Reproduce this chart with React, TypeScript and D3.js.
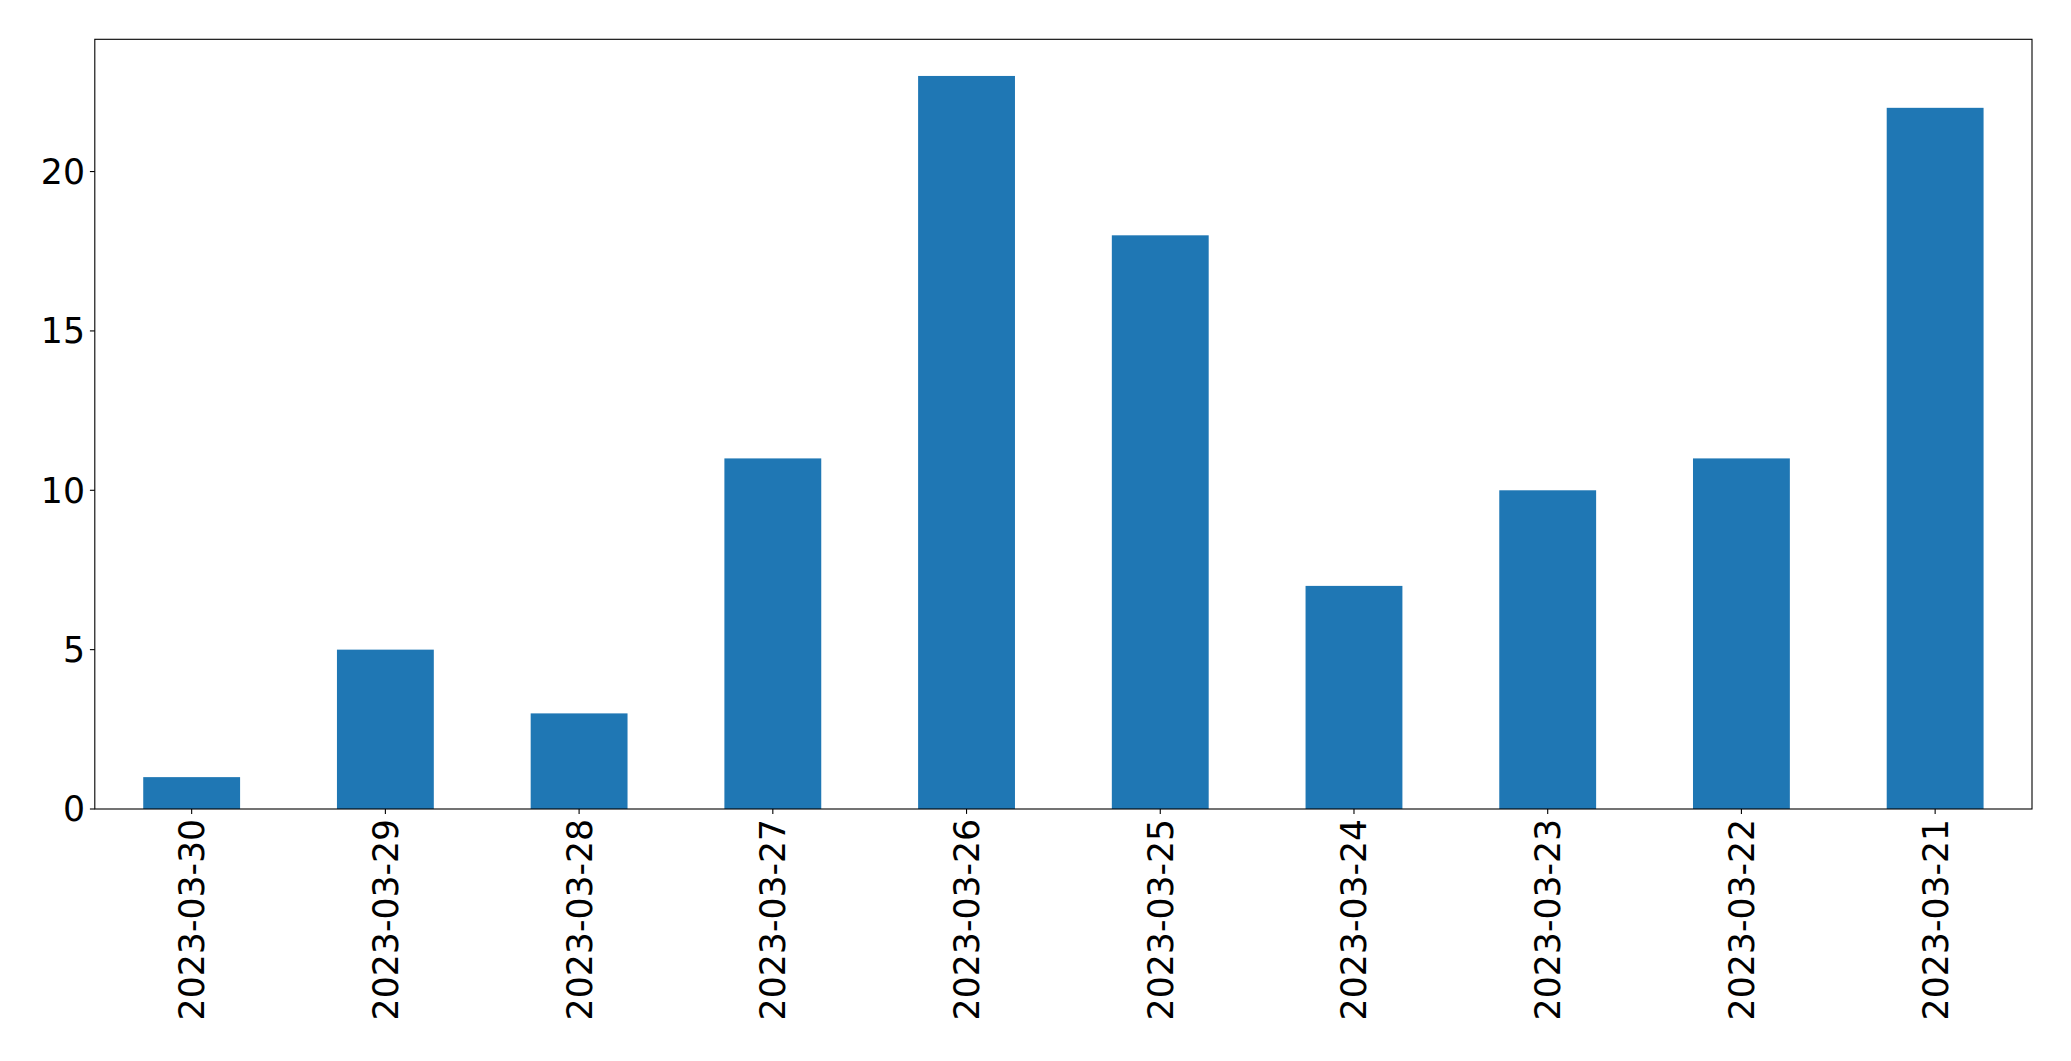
import React from "react";
import * as d3 from "d3";

const categories = ["2023-03-30", "2023-03-29", "2023-03-28", "2023-03-27", "2023-03-26", "2023-03-25", "2023-03-24", "2023-03-23", "2023-03-22", "2023-03-21"];
const values = [1, 5, 3, 11, 23, 18, 7, 10, 11, 22];
const yTicks = [0, 5, 10, 15, 20];

const W = 2071, H = 1061;
const M = { left: 94.8, right: W - 2032, top: 39.3, bottom: H - 809 };

export default function App() {
  const x = d3.scaleLinear().domain([-0.5, categories.length - 0.5]).range([M.left, W - M.right]);
  const y = d3.scaleLinear().domain([0, d3.max(values)! * 1.05]).range([H - M.bottom, M.top]);
  const bw = x(0.25) - x(-0.25);
  const font = "DejaVu Sans, sans-serif";
  const fs = 34.7;
  return (
    <svg width={W} height={H} style={{ position: "absolute", left: 0, top: 0, background: "#fff" }}>
      <rect x={0} y={0} width={W} height={H} fill="#fff" />
      {values.map((v, i) => (
        <rect key={i} x={x(i) - bw / 2} y={y(v)} width={bw} height={y(0) - y(v)} fill="#1f77b4" />
      ))}
      <rect x={x(-0.5)} y={y.range()[1]} width={x(categories.length - 0.5) - x(-0.5)} height={y(0) - y.range()[1]} fill="none" stroke="#000" strokeWidth={1.1} />
      {yTicks.map((t) => (
        <g key={t}>
          <line x1={M.left - 4.9} x2={M.left} y1={y(t)} y2={y(t)} stroke="#000" strokeWidth={1.1} />
          <text x={M.left - 9.8} y={y(t)} dy="0.36em" textAnchor="end" fontFamily={font} fontSize={fs}>{t}</text>
        </g>
      ))}
      {categories.map((c, i) => (
        <g key={c}>
          <line x1={x(i)} x2={x(i)} y1={y(0)} y2={y(0) + 4.9} stroke="#000" strokeWidth={1.1} />
          <text transform={`translate(${x(i)},${y(0) + 9.8}) rotate(-90)`} dy="0.36em" textAnchor="end" fontFamily={font} fontSize={fs}>{c}</text>
        </g>
      ))}
    </svg>
  );
}
